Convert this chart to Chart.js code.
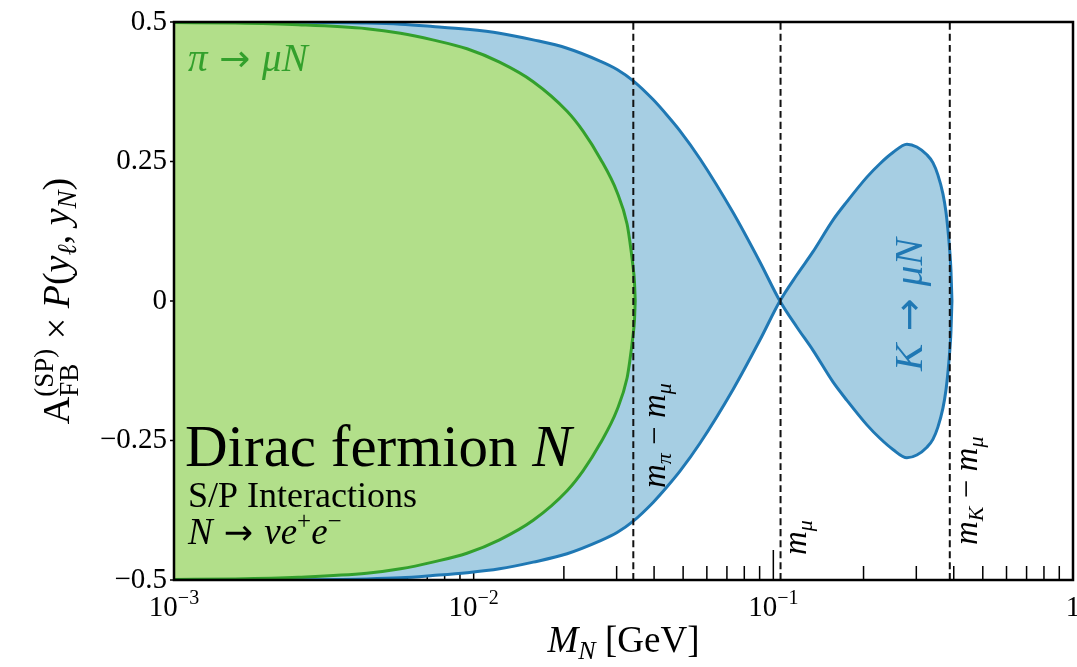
<!DOCTYPE html>
<html>
<head>
<meta charset="utf-8">
<script src="https://cdn.jsdelivr.net/npm/chart.js@4.4.1/dist/chart.umd.min.js"></script>
<style>
  html, body { margin: 0; padding: 0; background: #fff; overflow: hidden; }
  #wrap { width: 1077px; height: 667px; position: relative; }
</style>
</head>
<body>
<div id="wrap"><canvas id="afb-chart"></canvas></div>
<script>
// pi -> mu N : asymmetry envelope (upper branch, lower is the mirror)
const piMass = [0.0010, 0.0016, 0.0026, 0.0044, 0.0057, 0.0073, 0.0095, 0.0122, 0.0158, 0.0205,
                0.0232, 0.0264, 0.0301, 0.0325, 0.0332, 0.0340, 0.0344, 0.0346];
const piAsym = [0.499, 0.498, 0.495, 0.488, 0.480, 0.468, 0.452, 0.428, 0.393, 0.340,
                0.304, 0.256, 0.195, 0.138, 0.107, 0.063, 0.035, 0];

// K -> mu N : changes sign at m_mu
const kMass = [0.0010, 0.0016, 0.0026, 0.0044, 0.0057, 0.0073, 0.0095, 0.0122, 0.0158, 0.0205,
               0.0264, 0.0301, 0.0340, 0.0397, 0.0442, 0.0488, 0.0569, 0.0733, 0.0902, 0.1052,
               0.1199, 0.1355, 0.1581, 0.1760, 0.2052, 0.2268, 0.2506, 0.2791, 0.3013, 0.3255,
               0.3408, 0.3541, 0.3681, 0.3767, 0.3825, 0.3885, 0.3915, 0.3945];
const kAsym = [0.500, 0.500, 0.4995, 0.498, 0.496, 0.492, 0.487, 0.480, 0.468, 0.453,
               0.430, 0.415, 0.395, 0.361, 0.333, 0.305, 0.255, 0.159, 0.070, 0,
               -0.047, -0.088, -0.145, -0.178, -0.222, -0.246, -0.266, -0.281, -0.276, -0.262,
               -0.248, -0.226, -0.192, -0.160, -0.128, -0.085, -0.055, 0];

// kinematic thresholds: m_pi - m_mu, m_mu, m_K - m_mu
const thresholdMass = [0.0341, 0.1057, 0.388];

const xTickValues = [0.001, 0.01, 0.1, 1];
const xTickExponents = ['−3', '−2', '−1', ''];
const yTickValues = [0.5, 0.25, 0, -0.25, -0.5];
const yTickLabels = ['0.5', '0.25', '0', '−0.25', '−0.5'];

const GREEN_LINE = '#33a02c';
const GREEN_FILL = '#b2df8a';
const BLUE_LINE  = '#1f78b4';
const BLUE_FILL  = '#a6cee3';
const SERIF = '"Liberation Serif", "DejaVu Serif", serif';
const ARROW = '"DejaVu Sans", sans-serif';

function font(size, italic, family) {
  return `${italic ? 'italic ' : ''}${size}px ${family || SERIF}`;
}

function toPoints(xs, ys, sign) {
  return xs.map((x, i) => ({ x, y: sign * ys[i] }));
}

// runs: { t, s, i, dy, f } or { stack: [run, run] } drawn at the same x
function runWidth(ctx, r) {
  if (r.stack) return Math.max(...r.stack.map(q => runWidth(ctx, q)));
  ctx.font = font(r.s, r.i, r.f);
  return ctx.measureText(r.t).width;
}

function drawRun(ctx, r, x, y) {
  if (r.stack) { r.stack.forEach(q => drawRun(ctx, q, x, y)); return; }
  ctx.font = font(r.s, r.i, r.f);
  ctx.fillText(r.t, x, y + (r.dy || 0));
}

function drawRuns(ctx, runs, x, y, align, color) {
  ctx.save();
  ctx.fillStyle = color || '#000';
  ctx.textAlign = 'left';
  ctx.textBaseline = 'alphabetic';
  const widths = runs.map(r => runWidth(ctx, r));
  const total  = widths.reduce((a, b) => a + b, 0);
  let cx = align === 'center' ? x - total / 2 : align === 'right' ? x - total : x;
  runs.forEach((r, i) => { drawRun(ctx, r, cx, y); cx += widths[i]; });
  ctx.restore();
}

function drawRunsUp(ctx, runs, x, y, align, color) {
  ctx.save();
  ctx.translate(x, y);
  ctx.rotate(-Math.PI / 2);
  drawRuns(ctx, runs, 0, 0, align, color);
  ctx.restore();
}

function minorTicks() {
  const out = [];
  xTickValues.slice(0, -1).forEach(d => { for (let k = 2; k <= 9; k++) out.push(d * k); });
  return out;
}

const arrow = (s) => ({ t: ' → ', s, f: ARROW });
const m = (sub) => [{ t: 'm', s: 33, i: true }, { t: sub, s: 22, i: true, dy: 6 }];

const labels = {
  pion:   [{ t: 'π', s: 39, i: true }, arrow(37), { t: 'μN', s: 39, i: true }],
  kaon:   [{ t: 'K', s: 41, i: true }, arrow(39), { t: 'μN', s: 41, i: true }],
  dirac:  [{ t: 'Dirac fermion ', s: 59 }, { t: 'N', s: 59, i: true }],
  inter:  [{ t: 'S/P Interactions', s: 36 }],
  decay:  [{ t: 'N', s: 37, i: true }, arrow(35), { t: 'νe', s: 37, i: true },
           { t: '+', s: 25, dy: -15 }, { t: 'e', s: 37, i: true }, { t: '−', s: 25, dy: -15 }],
  piCut:  [...m('π'), { t: ' − ', s: 33 }, ...m('μ')],
  muCut:  [...m('μ')],
  kCut:   [...m('K'), { t: ' − ', s: 33 }, ...m('μ')],
  xTitle: [{ t: 'M', s: 37, i: true }, { t: 'N', s: 26, i: true, dy: 7 }, { t: ' [GeV]', s: 37 }],
  yTitle: [{ t: 'A', s: 38 },
           { stack: [{ t: 'FB', s: 27, dy: 9 }, { t: '(SP)', s: 27, dy: -16 }] },
           { t: ' × ', s: 38 }, { t: 'P', s: 38, i: true }, { t: '(', s: 38 },
           { t: 'y', s: 38, i: true }, { t: 'ℓ', s: 27, i: true, dy: 7 }, { t: ', ', s: 38 },
           { t: 'y', s: 38, i: true }, { t: 'N', s: 27, i: true, dy: 7 }, { t: ')', s: 38 }]
};

const decorPlugin = {
  id: 'decor',
  beforeDraw(chart) {
    const { ctx, chartArea: a, scales: { x, y } } = chart;
    ctx.save();
    ctx.strokeStyle = '#000';
    ctx.lineWidth = 1.5;
    ctx.beginPath();
    minorTicks().forEach(v => {
      const px = x.getPixelForValue(v);
      ctx.moveTo(px, a.bottom); ctx.lineTo(px, a.bottom - 14);
    });
    xTickValues.forEach(v => {
      const px = x.getPixelForValue(v);
      ctx.moveTo(px, a.bottom); ctx.lineTo(px, a.bottom - 30);
    });
    yTickValues.forEach(v => {
      const py = y.getPixelForValue(v);
      ctx.moveTo(a.left - 4, py); ctx.lineTo(a.left, py);
    });
    ctx.stroke();
    ctx.restore();
  },
  afterDatasetsDraw(chart) {
    const { ctx, chartArea: a, scales: { x, y } } = chart;

    ctx.save();
    ctx.strokeStyle = '#000';
    ctx.lineWidth = 2.5;
    ctx.strokeRect(a.left, a.top, a.right - a.left, a.bottom - a.top);
    ctx.restore();

    xTickValues.forEach((v, i) => {
      const runs = xTickExponents[i]
        ? [{ t: '10', s: 29 }, { t: xTickExponents[i], s: 20, dy: -12 }]
        : [{ t: '1', s: 29 }];
      drawRuns(ctx, runs, x.getPixelForValue(v), 616, 'center');
    });
    ctx.save();
    ctx.font = font(29);
    ctx.fillStyle = '#000';
    ctx.textAlign = 'right';
    ctx.textBaseline = 'middle';
    yTickValues.forEach((v, i) => ctx.fillText(yTickLabels[i], a.left - 7, y.getPixelForValue(v)));
    ctx.restore();

    drawRuns(ctx, labels.xTitle, (a.left + a.right) / 2, 652, 'center');
    drawRunsUp(ctx, labels.yTitle, 69, (a.top + a.bottom) / 2, 'center');

    drawRuns(ctx, labels.pion, 188, 71, 'left', GREEN_LINE);
    drawRuns(ctx, labels.dirac, 185, 466, 'left');
    drawRuns(ctx, labels.inter, 188, 507, 'left');
    drawRuns(ctx, labels.decay, 188, 544, 'left');
    drawRunsUp(ctx, labels.kaon, 922, 371, 'left', BLUE_LINE);

    drawRunsUp(ctx, labels.piCut, 665, 488, 'left');
    drawRunsUp(ctx, labels.muCut, 806, 555, 'left');
    drawRunsUp(ctx, labels.kCut, 977, 545, 'left');
  }
};

const thresholdSets = thresholdMass.map(mass => ({
  data: [{ x: mass, y: -0.5 }, { x: mass, y: 0.5 }],
  borderColor: '#111',
  borderWidth: 2,
  borderDash: [7, 4],
  fill: false,
  order: 0
}));

const ctx = document.getElementById('afb-chart').getContext('2d');
new Chart(ctx, {
  type: 'line',
  data: {
    datasets: [
      ...thresholdSets,
      { data: toPoints(piMass, piAsym, 1),  borderColor: GREEN_LINE, borderWidth: 3,
        backgroundColor: GREEN_FILL, fill: '+1', order: 1 },
      { data: toPoints(piMass, piAsym, -1), borderColor: GREEN_LINE, borderWidth: 3,
        fill: false, order: 1 },
      { data: toPoints(kMass, kAsym, 1),    borderColor: BLUE_LINE, borderWidth: 3,
        backgroundColor: BLUE_FILL, fill: '+1', order: 2 },
      { data: toPoints(kMass, kAsym, -1),   borderColor: BLUE_LINE, borderWidth: 3,
        fill: false, order: 2 }
    ]
  },
  options: {
    responsive: true,
    maintainAspectRatio: false,
    animation: false,
    layout: { padding: { left: 174, top: 22, right: 4, bottom: 87 } },
    elements: {
      point: { radius: 0, hoverRadius: 0 },
      line:  { cubicInterpolationMode: 'monotone' }
    },
    scales: {
      x: { type: 'logarithmic', min: 0.001, max: 1, display: false },
      y: { type: 'linear', min: -0.5, max: 0.5, display: false }
    },
    plugins: {
      legend:  { display: false },
      tooltip: { enabled: false },
      filler:  { drawTime: 'beforeDatasetsDraw' }
    }
  },
  plugins: [decorPlugin]
});
</script>
</body>
</html>
